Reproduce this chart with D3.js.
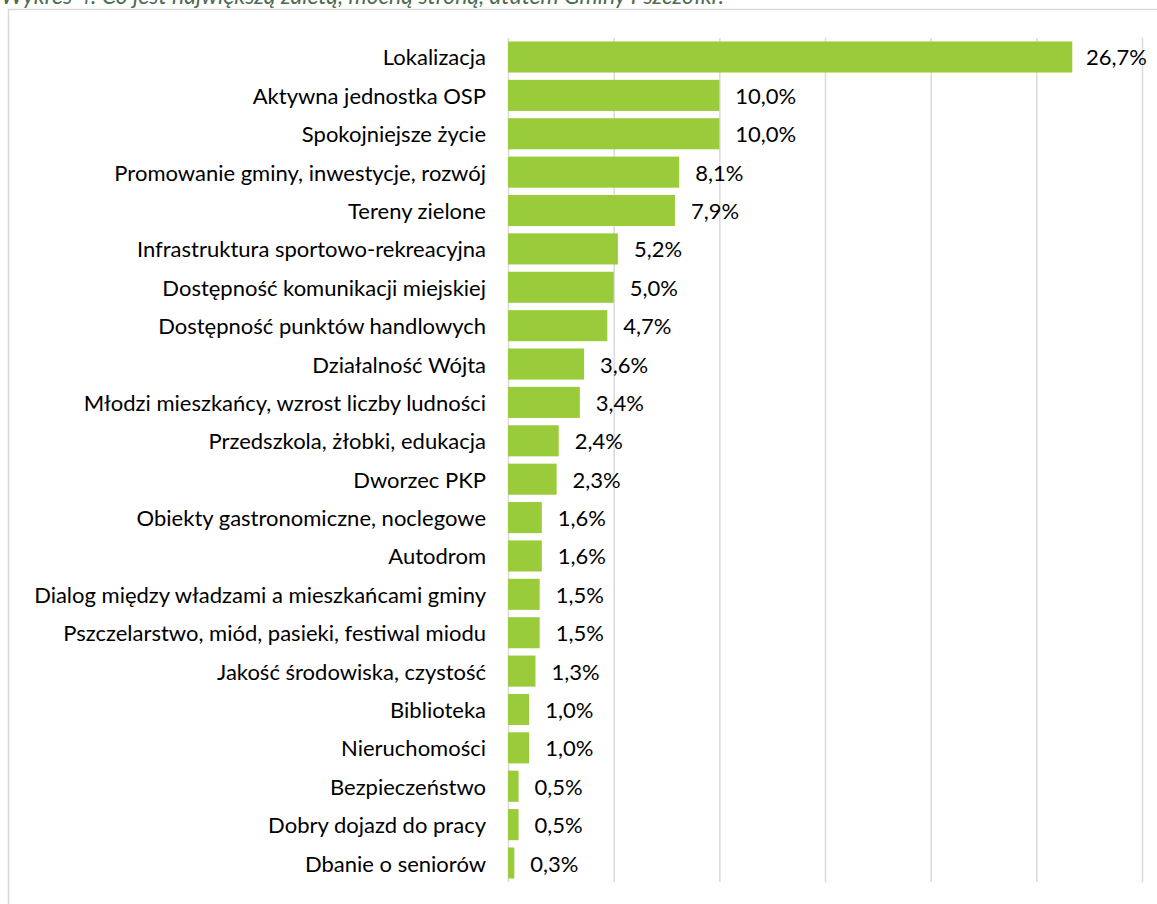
<!DOCTYPE html>
<html>
<head>
<meta charset="utf-8">
<script src="https://cdn.jsdelivr.net/npm/d3@7"></script>
<style>
  body { margin: 0; background: #fff; }
  svg { display: block; font-family: Lato, 'Open Sans', sans-serif; }
</style>
</head>
<body>
<svg class="bar-chart-svg"></svg>
<script>
// chart data
const categories = [
  'Lokalizacja',
  'Aktywna jednostka OSP',
  'Spokojniejsze życie',
  'Promowanie gminy, inwestycje, rozwój',
  'Tereny zielone',
  'Infrastruktura sportowo-rekreacyjna',
  'Dostępność komunikacji miejskiej',
  'Dostępność punktów handlowych',
  'Działalność Wójta',
  'Młodzi mieszkańcy, wzrost liczby ludności',
  'Przedszkola, żłobki, edukacja',
  'Dworzec PKP',
  'Obiekty gastronomiczne, noclegowe',
  'Autodrom',
  'Dialog między władzami a mieszkańcami gminy',
  'Pszczelarstwo, miód, pasieki, festiwal miodu',
  'Jakość środowiska, czystość',
  'Biblioteka',
  'Nieruchomości',
  'Bezpieczeństwo',
  'Dobry dojazd do pracy',
  'Dbanie o seniorów'
]
const values = [26.7, 10.0, 10.0, 8.1, 7.9, 5.2, 5.0, 4.7, 3.6, 3.4, 2.4, 2.3, 1.6, 1.6, 1.5, 1.5, 1.3, 1.0, 1.0, 0.5, 0.5, 0.3]
const gridTicks = [0, 5, 10, 15, 20, 25, 30]
const title = 'Wykres 4. Co jest największą zaletą, mocną stroną, atutem Gminy Pszczółki?'

const width = 1157
const height = 904
const barColor = '#9acb3b'
const gridColor = '#d9d9d9'
const fontSize = 22

const svg = d3.select('.bar-chart-svg')
  .attr('width', width)
  .attr('height', height)

const x = d3.scaleLinear().domain([0, 30]).range([508, 1142])
const y = d3.scaleBand().domain(categories).range([38, 882])
  .paddingInner(0.19).paddingOuter(0.09)

const fmt = v => v.toFixed(1).replace('.', ',') + '%'

function drawFrame() {
  // title sits mostly above the visible area, as in the source
  svg.append('text')
    .attr('x', 1)
    .attr('y', 4)
    .attr('font-size', 23)
    .attr('font-style', 'italic')
    .attr('fill', '#4e6b52')
    .text(title)

  svg.append('rect')
    .attr('x', 8.5)
    .attr('y', 9.5)
    .attr('width', width)
    .attr('height', height)
    .attr('fill', 'none')
    .attr('stroke', gridColor)
    .attr('stroke-width', 1.5)
}

function drawGrid() {
  const g = svg.append('g').attr('class', 'grid')
    .attr('transform', 'translate(0,882)')
    .call(d3.axisBottom(x).tickValues(gridTicks).tickSize(-844).tickFormat(''))
  g.select('.domain').remove()
  g.selectAll('line').attr('stroke', gridColor).attr('stroke-width', 1.5)
}

function drawBars() {
  svg.append('g').attr('class', 'bars')
    .selectAll('rect')
    .data(values)
    .join('rect')
    .attr('x', x(0))
    .attr('y', (d, i) => y(categories[i]))
    .attr('width', d => x(d) - x(0))
    .attr('height', y.bandwidth())
    .attr('fill', barColor)
}

function drawLabels() {
  svg.append('g').attr('class', 'cat-labels')
    .selectAll('text')
    .data(categories)
    .join('text')
    .attr('x', 486)
    .attr('y', d => y(d) + y.bandwidth() / 2)
    .attr('text-anchor', 'end')
    .attr('dominant-baseline', 'central')
    .attr('font-size', fontSize)
    .attr('fill', '#000')
    .text(d => d)

  const vals = svg.append('g').attr('class', 'value-labels')
    .selectAll('text')
    .data(values)
    .join('text')
    .attr('y', (d, i) => y(categories[i]) + y.bandwidth() / 2)
    .attr('dominant-baseline', 'central')
    .attr('font-size', fontSize)
    .attr('fill', '#000')
    .text(d => fmt(d))

  // keep long labels inside the chart area
  vals.attr('x', function(d) {
    const w = this.getComputedTextLength()
    return Math.min(x(d) + 16, width - 10 - w)
  })
}

drawFrame()
drawGrid()
drawBars()
drawLabels()
</script>
</body>
</html>
